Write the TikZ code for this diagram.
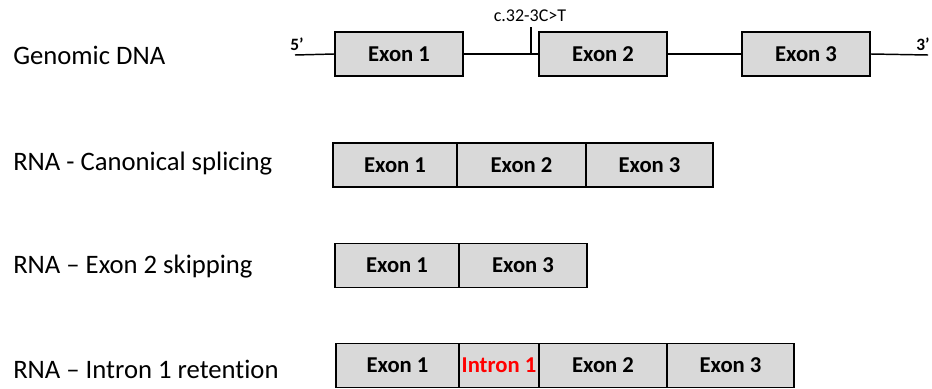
\documentclass[tikz,border=0pt]{standalone}
\usepackage{fontspec}
\setmainfont[Ligatures=NoCommon]{Carlito}
\usepackage{tikz}
\usetikzlibrary{positioning}

\definecolor{exongrey}{HTML}{D9D9D9}
\definecolor{intronred}{HTML}{FF0000}

\tikzset{
	exon/.style={draw, line width=1.1pt, fill=exongrey, rectangle, minimum height=33pt, inner sep=0pt, font=\fontsize{17}{19}\selectfont\bfseries},
	rowlabel/.style={anchor=west, inner sep=0pt, font=\fontsize{20}{23}\selectfont},
	endlabel/.style={inner sep=0pt, font=\fontsize{13}{15}\selectfont\bfseries},
	strand/.style={line width=1.1pt}
}

\begin{document}
\begin{tikzpicture}[x=0.75pt, y=-0.75pt]
		\useasboundingbox (0,0) rectangle (932,389);
		
		% row labels
		\node[rowlabel] (lgen) at (13,55) {Genomic DNA};
		\node[rowlabel] (lcan) at (13,164) {RNA - Canonical splicing};
		\node[rowlabel] (lskip) at (13,267) {RNA -- Exon 2 skipping};
		\node[rowlabel] (lret) at (13,369) {RNA -- Intron 1 retention};
		
		% genomic DNA
		\coordinate (five) at (295,55);
		\coordinate (three) at (928,55);
		\node[endlabel] (lfive) at (297,44) {5'};
		\node[endlabel] (lthree) at (923,44) {3'};
		\node[exon, minimum width=96pt] (G1) at (399,54) {Exon 1};
		\node[exon, minimum width=96pt] (G2) at (603,54) {Exon 2};
		\node[exon, minimum width=96pt] (G3) at (806,54) {Exon 3};
		\draw[strand] (five) -- (G1.west);
		\draw[strand] (G1.east) -- (G2.west);
		\draw[strand] (G2.east) -- (G3.west);
		\draw[strand] (G3.east) -- (three);
		
		% variant
		\coordinate (mut) at (531,53);
		\node[inner sep=0pt, font=\fontsize{13.5}{15}\selectfont] (lmut) at (530,16) {c.32-3C>T};
		\draw[line width=1.3pt] (mut) -- ++(0,-26);
		
		% canonical splicing
		\node[exon, minimum width=93pt] (C1) at (395,165) {Exon 1};
		\node[exon, minimum width=96.75pt] (C2) at (521.5,165) {Exon 2};
		\node[exon, minimum width=95.25pt] (C3) at (649.5,165) {Exon 3};
		
		% exon 2 skipping
		\node[exon, minimum width=93pt] (S1) at (397,265.5) {Exon 1};
		\node[exon, minimum width=96pt] (S3) at (523,265.5) {Exon 3};
		
		% intron 1 retention
		\node[exon, minimum width=92.25pt] (R1) at (397.5,365.5) {Exon 1};
		\node[exon, minimum width=60pt, text=intronred] (RI) at (499,365.5) {Intron 1};
		\node[exon, minimum width=96pt] (R2) at (603,365.5) {Exon 2};
		\node[exon, minimum width=95.25pt] (R3) at (730.5,365.5) {Exon 3};
	\end{tikzpicture}
\end{document}
